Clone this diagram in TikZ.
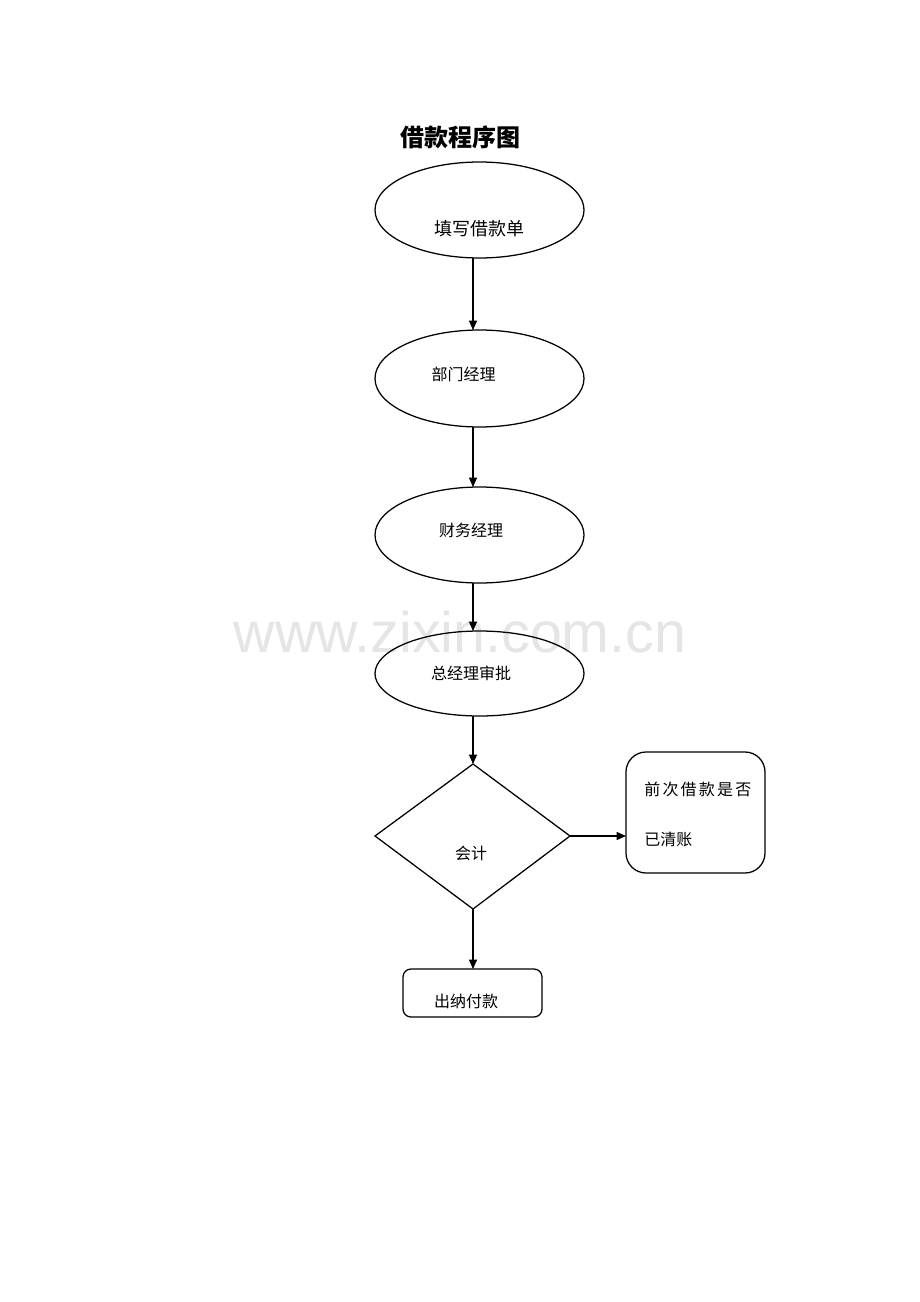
\documentclass[tikz,border=0pt]{standalone}
\usepackage{fontspec}
\newfontfamily\cjk{Noto Sans CJK SC}
\newfontfamily\cjkspaced[LetterSpace=14]{Noto Sans CJK SC}
\setsansfont{Liberation Sans}
\usetikzlibrary{shapes.geometric,arrows.meta}
\tikzset{
  shapeline/.style={draw=black, line width=0.95pt, inner sep=0pt, outer sep=0pt},
  ell/.style={shapeline, ellipse, minimum width={209*0.75pt}},
  flow/.style={line width=0.95pt, -{Triangle[length=7pt,width=6pt]}},
  txt/.style={font=\cjk\fontsize{12pt}{14pt}\selectfont, inner sep=0pt},
}
\begin{document}
\begin{tikzpicture}[x=0.75pt,y=-0.75pt]
\useasboundingbox (0,0) rectangle (920,1302);
\fill[white] (0,0) rectangle (920,1302);
% watermark
\node[inner sep=0pt, anchor=base, text=black!10, font=\sffamily\fontsize{43pt}{43pt}\selectfont] (wm) at (460,652) {www.zixin.com.cn};
% title
\node[txt, font=\cjk\bfseries\fontsize{18pt}{20pt}\selectfont] (title) at (460,137) {借款程序图};
% shapes
\node[ell, minimum height={96*0.75pt}] (e1) at (479.5,210) {};
\node[ell, minimum height={97*0.75pt}] (e2) at (479.5,378.5) {};
\node[ell, minimum height={96*0.75pt}] (e3) at (479.5,535) {};
\node[ell, minimum height={85*0.75pt}] (e4) at (479.5,673.5) {};
\coordinate (dt) at (473,764);
\coordinate (dl) at (375,836);
\coordinate (dr) at (570,836);
\coordinate (db) at (473,909);
\draw[line width=0.95pt, line join=miter] (dt) -- (dr) -- (db) -- (dl) -- cycle;
\node[shapeline, rectangle, rounded corners={20*0.75pt}, minimum width={139*0.75pt}, minimum height={121*0.75pt}] (chk) at (695.5,812.5) {};
\node[shapeline, rectangle, rounded corners={8*0.75pt}, minimum width={139*0.75pt}, minimum height={48*0.75pt}] (pay) at (472.5,993) {};
% texts
\node[txt, font=\cjk\fontsize{13.5pt}{15pt}\selectfont] (t1) at (479,229) {填写借款单};
\node[txt] (t2) at (463.5,374) {部门经理};
\node[txt] (t3) at (471,530) {财务经理};
\node[txt] (t4) at (471,673) {总经理审批};
\node[txt] (t5) at (471,853) {会计};
\node[txt, anchor=west, font=\cjkspaced\fontsize{12pt}{14pt}\selectfont] (t6) at (644,789) {前次借款是否};
\node[txt, anchor=west] (t7) at (644,839) {已清账};
\node[txt] (t8) at (466,1001) {出纳付款};
% connectors
\draw[flow] (e1.south -| dt) -- (e2.north -| dt);
\draw[flow] (e2.south -| dt) -- (e3.north -| dt);
\draw[flow] (e3.south -| dt) -- (e4.north -| dt);
\draw[flow] (e4.south -| dt) -- (dt);
\draw[flow] (dr) -- (chk.west |- dr);
\draw[flow] (db) -- (pay.north -| db);
\end{tikzpicture}
\end{document}
